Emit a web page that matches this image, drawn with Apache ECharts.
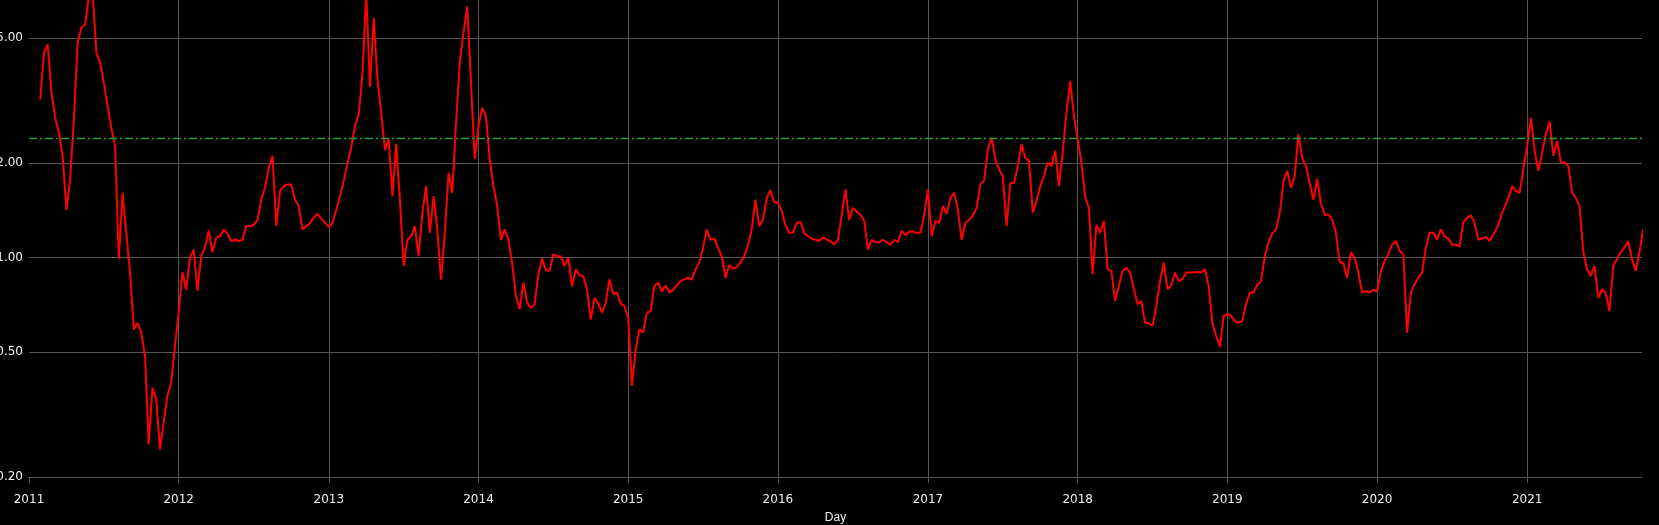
<!DOCTYPE html>
<html>
<head>
<meta charset="utf-8">
<script src="https://cdn.jsdelivr.net/npm/echarts@6/dist/echarts.min.js"></script>
<style>
  html, body { margin: 0; padding: 0; background: #000; }
  #chart { width: 1659px; height: 525px; }
</style>
</head>
<body>
<div id="chart"></div>
<script>
const y2011 = [null, null, null, 3.19, 4.50, 4.78, 3.35, 2.79, 2.50, 2.11, 1.42, 1.78, 2.76, 4.85, 5.40, 5.53, 6.8, 7.0, 4.50, 4.18, 3.61, 3.04, 2.59, 2.27, 0.99, 1.61, 1.20, 0.896, 0.59, 0.62, 0.577, 0.486, 0.254, 0.385, 0.354, 0.245, 0.298, 0.363, 0.400, 0.523];
const y2012 = [0.668, 0.90, 0.79, 1.00, 1.06, 0.783, 1.01, 1.08, 1.22, 1.04, 1.16, 1.17, 1.23, 1.19, 1.13, 1.14, 1.13, 1.14, 1.26, 1.26, 1.27, 1.32, 1.53, 1.67, 1.93, 2.11, 1.26, 1.63, 1.69, 1.71, 1.71, 1.53, 1.46, 1.23, 1.26, 1.29, 1.34, 1.38, 1.33, 1.29];
const y2013 = [1.25, 1.29, 1.42, 1.57, 1.76, 2.00, 2.24, 2.63, 2.86, 3.84, 7.0, 3.5, 5.8, 3.7, 2.9, 2.2, 2.38, 1.57, 2.3, 1.53, 0.94, 1.14, 1.17, 1.26, 1.01, 1.39, 1.69, 1.20, 1.57, 1.23, 0.85, 1.20, 1.86, 1.61, 2.69, 4.18, 5.21, 6.33, 3.61, 2.06];
const y2014 = [2.63, 3.0, 2.82, 2.06, 1.69, 1.46, 1.14, 1.23, 1.14, 0.96, 0.755, 0.685, 0.833, 0.719, 0.692, 0.71, 0.885, 0.993, 0.913, 0.907, 1.025, 1.01, 1.01, 0.94, 1.00, 0.81, 0.918, 0.878, 0.874, 0.793, 0.635, 0.745, 0.715, 0.668, 0.719, 0.853, 0.764, 0.774, 0.715, 0.70];
const y2015 = [0.643, 0.39, 0.51, 0.591, 0.577, 0.668, 0.676, 0.812, 0.833, 0.78, 0.815, 0.774, 0.79, 0.815, 0.843, 0.853, 0.863, 0.85, 0.918, 0.964, 1.076, 1.23, 1.14, 1.15, 1.076, 1.01, 0.863, 0.948, 0.922, 0.933, 0.964, 1.01, 1.095, 1.23, 1.53, 1.26, 1.32, 1.54, 1.64, 1.50];
const y2016 = [1.50, 1.41, 1.27, 1.20, 1.20, 1.29, 1.30, 1.20, 1.17, 1.15, 1.14, 1.13, 1.16, 1.14, 1.13, 1.10, 1.14, 1.36, 1.65, 1.32, 1.44, 1.40, 1.37, 1.31, 1.06, 1.14, 1.12, 1.12, 1.14, 1.12, 1.10, 1.14, 1.12, 1.22, 1.18, 1.21, 1.21, 1.20, 1.20, 1.37];
const y2017 = [1.65, 1.17, 1.31, 1.29, 1.46, 1.38, 1.55, 1.61, 1.42, 1.14, 1.29, 1.32, 1.36, 1.44, 1.71, 1.76, 2.21, 2.41, 2.06, 1.91, 1.82, 1.26, 1.73, 1.73, 1.96, 2.30, 2.08, 2.03, 1.39, 1.515, 1.69, 1.82, 2.01, 1.96, 2.19, 1.69, 2.16, 2.90, 3.65, 2.83];
const y2018 = [2.38, 2.01, 1.56, 1.44, 0.885, 1.27, 1.20, 1.31, 0.918, 0.907, 0.727, 0.812, 0.907, 0.929, 0.896, 0.797, 0.71, 0.727, 0.62, 0.618, 0.606, 0.70, 0.842, 0.964, 0.793, 0.815, 0.896, 0.842, 0.853, 0.896, 0.896, 0.896, 0.90, 0.896, 0.918, 0.812, 0.62, 0.563, 0.52, 0.652];
const y2019 = [0.66, 0.652, 0.628, 0.62, 0.63, 0.71, 0.774, 0.774, 0.818, 0.842, 1.01, 1.12, 1.195, 1.23, 1.39, 1.755, 1.89, 1.67, 1.82, 2.47, 2.08, 1.96, 1.73, 1.53, 1.78, 1.49, 1.37, 1.37, 1.32, 1.20, 0.97, 0.96, 0.863, 1.04, 1.00, 0.896, 0.774, 0.783, 0.774, 0.79];
const y2020 = [0.78, 0.90, 0.976, 1.025, 1.10, 1.13, 1.05, 1.025, 0.577, 0.774, 0.822, 0.863, 0.896, 1.076, 1.20, 1.20, 1.14, 1.23, 1.165, 1.15, 1.10, 1.10, 1.085, 1.30, 1.34, 1.365, 1.285, 1.14, 1.15, 1.165, 1.13, 1.187, 1.246, 1.35, 1.45, 1.55, 1.69, 1.63, 1.61, 1.92];
const y2021 = [2.27, 2.79, 2.19, 1.89, 2.16, 2.47, 2.72, 2.11, 2.35, 2.01, 2.01, 1.96, 1.61, 1.55, 1.46, 1.04, 0.918, 0.874, 0.94, 0.745, 0.793, 0.77, 0.676, 0.94, 0.99, 1.04, 1.076, 1.13, 0.99, 0.907, 1.04, 1.23];

const years = [2011, 2012, 2013, 2014, 2015, 2016, 2017, 2018, 2019, 2020, 2021];
const yearValues = [y2011, y2012, y2013, y2014, y2015, y2016, y2017, y2018, y2019, y2020, y2021];
const samplesPerYear = 40;
const referenceLevel = 2.4;
const yTicks = [0.2, 0.5, 1, 2, 5];

const data = [];
years.forEach((yr, k) => {
  const t0 = new Date(yr, 0, 1).getTime();
  const t1 = new Date(yr + 1, 0, 1).getTime();
  yearValues[k].forEach((v, i) => {
    if (v == null) return;
    data.push([t0 + (t1 - t0) * i / samplesPerYear, v]);
  });
});

const font = 'DejaVu Sans, Verdana, sans-serif';
const gridColor = '#555555';
const DAY = 86400000;
const gridLeftPx = 29;

const chart = echarts.init(document.getElementById('chart'), null, { renderer: 'canvas' });

// The reference has no vertical line on the left edge (2011): hide the x split line
// that ECharts draws exactly on the grid's left boundary.
function hideLeftEdgeLine() {
  const zr = chart.getZr();
  let changed = false;
  zr.storage.getDisplayList(true).forEach(el => {
    const s = el.shape;
    if (!s || s.x1 == null || s.x2 == null) return;
    if (Math.abs(s.x1 - s.x2) < 0.01 && Math.abs(s.x1 - gridLeftPx) < 1.5 &&
        Math.abs(s.y1 - s.y2) > 100 && !el.ignore) {
      el.ignore = true;
      el.markRedraw && el.markRedraw();
      changed = true;
    }
  });
  if (changed) zr.refreshImmediately();
}
chart.on('finished', hideLeftEdgeLine);

chart.setOption({
  animation: false,
  backgroundColor: '#000000',
  grid: { left: gridLeftPx, right: 17, top: 0, bottom: 48, containLabel: false, outerBoundsMode: 'none' },
  xAxis: {
    type: 'time',
    min: new Date(2011, 0, 1).getTime(),
    max: new Date(2021, 9, 8).getTime(),
    minInterval: 365 * DAY,
    maxInterval: 366 * DAY,
    name: 'Day',
    nameLocation: 'middle',
    nameGap: 35,
    nameTextStyle: { color: '#eeeeee', fontSize: 12, fontFamily: 'Liberation Sans, sans-serif' },
    axisLine: { show: true, lineStyle: { color: gridColor, width: 1 } },
    axisTick: { show: true, length: 6, lineStyle: { color: gridColor } },
    axisLabel: {
      color: '#eeeeee', fontSize: 12, fontFamily: font, margin: 17,
      hideOverlap: false,
      formatter: v => String(new Date(v).getFullYear())
    },
    splitLine: { show: true, showMinLine: false, showMaxLine: false, lineStyle: { color: gridColor, width: 1 } }
  },
  yAxis: {
    type: 'log',
    logBase: 10,
    min: 0.2,
    max: 6.62,
    axisLine: { show: false },
    axisTick: { show: false, customValues: yTicks },
    axisLabel: {
      customValues: yTicks,
      color: '#eeeeee', fontSize: 12, fontFamily: font, margin: 6,
      formatter: v => Number(v).toFixed(2)
    },
    splitLine: { show: true, lineStyle: { color: gridColor, width: 1 } }
  },
  series: [{
    type: 'line',
    data: data,
    showSymbol: false,
    symbol: 'none',
    clip: true,
    lineStyle: { color: '#ff0000', width: 2 },
    itemStyle: { color: '#ff0000' },
    markLine: {
      silent: true,
      symbol: ['none', 'none'],
      label: { show: false },
      lineStyle: { color: '#22a040', width: 1.3, type: [8, 3, 2, 3] },
      data: [{ yAxis: referenceLevel }]
    }
  }]
});
hideLeftEdgeLine();
setTimeout(hideLeftEdgeLine, 0);
</script>
</body>
</html>
